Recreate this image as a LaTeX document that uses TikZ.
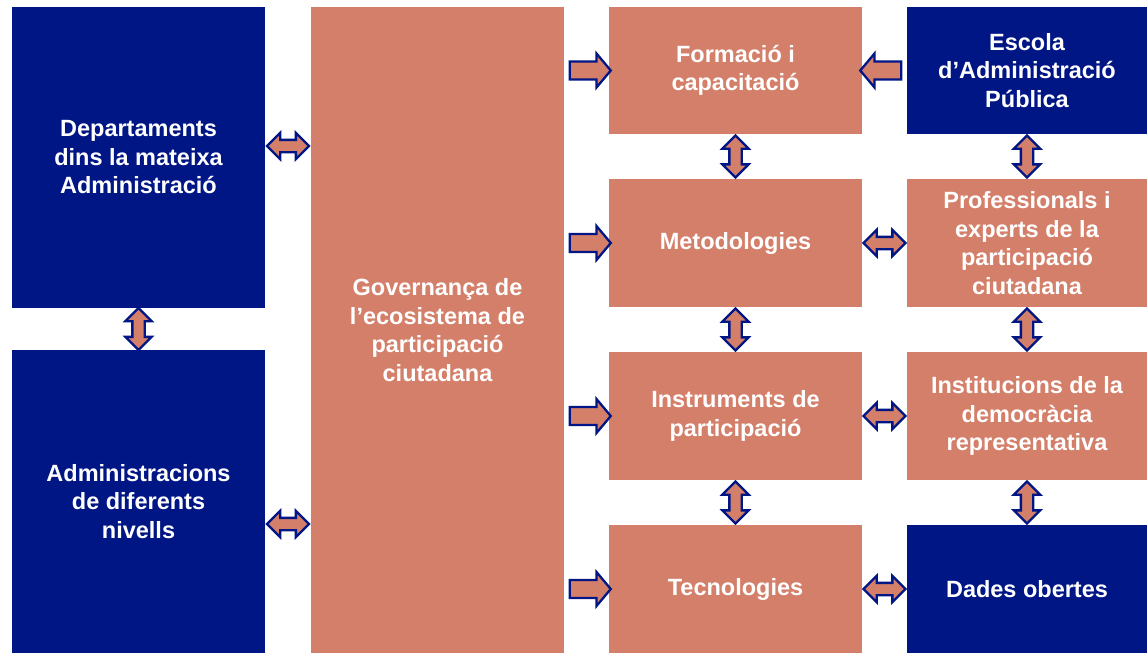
\documentclass[tikz,border=0pt]{standalone}
\usepackage{fontspec}
\setmainfont{Liberation Sans}
\usetikzlibrary{positioning,calc,shapes.arrows}
\definecolor{navy}{HTML}{001685}
\definecolor{salmon}{HTML}{D47F6A}
\tikzset{
  blk/.style={rectangle, inner sep=0pt, align=center, text=white, font=\bfseries\fontsize{23.5}{28.5}\selectfont},
  nbox/.style={blk, fill=navy},
  sbox/.style={blk, fill=salmon},
  arrbase/.style={draw=navy, fill=salmon, line width=2.3pt},
  onearr/.style={arrbase, single arrow, inner sep=7.8pt, single arrow head extend=8pt, single arrow tip angle=100, minimum height=41pt},
  twoarr/.style={arrbase, double arrow, inner sep=5pt, double arrow head extend=7pt, minimum height=42pt},
}
\begin{document}
\begin{tikzpicture}[x=1pt,y=-1pt]
\useasboundingbox (0,0) rectangle (1147,653);
% left column
\node[nbox, minimum width=253pt, minimum height=301pt] (dept) at (138.5,157.5) {Departaments\\dins la mateixa\\Administració};
\node[nbox, minimum width=253pt, minimum height=303pt] (admin) at (138.5,501.5) {Administracions\\de diferents\\nivells};
% centre
\node[sbox, minimum width=253pt, minimum height=646pt] (gov) at (437.5,330) {Governança de\\l’ecosistema de\\participació\\ciutadana};
% third column
\node[sbox, minimum width=253pt, minimum height=127pt] (form) at (735.5,70.5) {Formació i\\capacitació};
\node[sbox, minimum width=253pt, minimum height=128pt] (meto) at (735.5,243) {Metodologies};
\node[sbox, minimum width=253pt, minimum height=128pt] (instr) at (735.5,416) {Instruments de\\participació};
\node[sbox, minimum width=253pt, minimum height=128pt] (tec) at (735.5,589) {Tecnologies};
% fourth column
\node[nbox, minimum width=240pt, minimum height=127pt] (escola) at (1027,70.5) {Escola\\d’Administració\\Pública};
\node[sbox, minimum width=240pt, minimum height=128pt] (prof) at (1027,243) {Professionals i\\experts de la\\participació\\ciutadana};
\node[sbox, minimum width=240pt, minimum height=128pt] (inst) at (1027,416) {Institucions de la\\democràcia\\representativa};
\node[nbox, minimum width=240pt, minimum height=128pt] (dades) at (1027,589) {Dades obertes};

% arrows
\node[twoarr] (a1) at (288,146) {};
\node[twoarr] (a2) at (288,524) {};
\node[twoarr, rotate=90] (a3) at ($(dept.south)!0.5!(admin.north)$) {};
\foreach \n in {form,meto,instr,tec}
  \node[onearr] at ($(gov.east |- \n.west)!0.5!(\n.west)$) {};
\node[onearr, rotate=180] (a4) at ($(form.east)!0.5!(escola.west)$) {};
\foreach \a/\b in {meto/prof,instr/inst,tec/dades}
  \node[twoarr] at ($(\a.east)!0.5!(\b.west)$) {};
\foreach \a/\b in {form/meto,meto/instr,instr/tec,escola/prof,prof/inst,inst/dades}
  \node[twoarr, rotate=90] at ($(\a.south)!0.5!(\b.north)$) {};
\end{tikzpicture}
\end{document}
